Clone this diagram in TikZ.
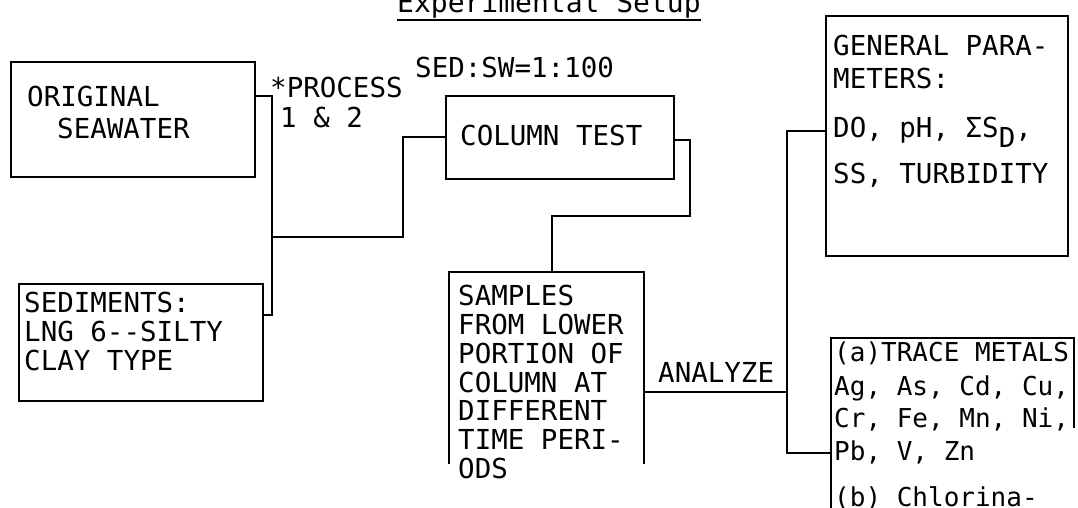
\documentclass[tikz,border=0pt]{standalone}
\usepackage{fontspec}
\newfontfamily\typer{DejaVu Sans Mono}
\tikzset{
  panel/.style={draw,line width=2pt,inner sep=0pt,anchor=north west},
  rim/.style={line width=2pt},
  wire/.style={line width=1.6pt},
  typed/.style={anchor=north west,inner sep=0pt,align=left,font=\typer\fontsize{27.5}{29}\selectfont},
}
\begin{document}
\begin{tikzpicture}[x=1pt,y=-1pt]
   \useasboundingbox (0,0) rectangle (1078,508);
   %title
   \node[typed,anchor=base west] (title) at (397,13) {\fontsize{28}{30}\selectfont Experimental Setup};
   \draw[wire] ([yshift=-7pt]title.base west) -- ([yshift=-7pt]title.base east);
   %boxes
   \node[panel,minimum width=244pt,minimum height=115pt] (sw) at (10,61) {};
   \node[panel,minimum width=244pt,minimum height=117pt] (sed) at (18,283) {};
   \node[panel,minimum width=228pt,minimum height=83pt] (col) at (445,95) {};
   \node[panel,minimum width=242pt,minimum height=240pt] (gen) at (825,15) {};
   \node[panel,draw=none,minimum width=193pt,minimum height=190pt] (smp) at (449,272) {};
   \draw[rim] (smp.south west) -- (smp.north west) -- (smp.north east) -- (smp.south east);
   \node[panel,draw=none,minimum width=241pt,minimum height=190pt] (trc) at (831,338) {};
   \draw[rim] (trc.south west) -- (trc.north west) -- (trc.north east) -- ([yshift=-90pt]trc.north east);
   %texts
   \node[typed] (swt) at (27,86) {ORIGINAL\\[3pt]\hspace*{30pt}SEAWATER};
   \node[typed] (sedt) at (24,292) {SEDIMENTS:\\LNG 6-{}-SILTY\\CLAY TYPE};
   \node[typed] (proc) at (270,77) {*PROCESS\\[1pt]\hspace*{10pt}1 \& 2};
   \node[typed] (ratio) at (415,57) {SED:SW=1:100};
   \node[typed] (colt) at (460,125) {COLUMN TEST};
   \node[typed,font=\typer\fontsize{27.5}{28.8}\selectfont] (smpt) at (458,285)
      {SAMPLES\\FROM LOWER\\PORTION OF\\COLUMN AT\\DIFFERENT\\TIME PERI-\\ODS};
   \node[typed] (ana) at (658,362) {ANALYZE};
   \node[typed] (gent) at (833,35)
      {GENERAL PARA-\\[4pt]METERS:\\[20pt]DO, pH, ΣS\raisebox{-10pt}{D},\\[14pt]SS, TURBIDITY};
   \node[typed,font=\typer\fontsize{26}{29}\selectfont] (trct) at (834,342)
      {(a)TRACE METALS\\[5pt]Ag, As, Cd, Cu,\\[3pt]Cr, Fe, Mn, Ni,\\[4pt]Pb, V, Zn\\[17pt](b) Chlorina-};
   %connectors
   \coordinate (lb1) at (272,96);
   \coordinate (lb2) at (272,315);
   \coordinate (lj) at (272,237);
   \coordinate (cb1) at (403,237);
   \coordinate (cb2) at (403,137);
   \draw[wire] (sw.east |- lb1) -- (lb1) -- (lb2) -- (sed.east |- lb2);
   \draw[wire] (lj) -- (cb1) -- (cb2) -- (col.west |- cb2);
   \coordinate (rb1) at (690,140);
   \coordinate (rb2) at (690,216);
   \coordinate (rb3) at (552,216);
   \draw[wire] (col.east |- rb1) -- (rb1) -- (rb2) -- (rb3) -- (rb3 |- smp.north);
   \coordinate (ab1) at (787,131);
   \coordinate (ab2) at (787,453);
   \coordinate (ab3) at (787,392);
   \draw[wire] (gen.west |- ab1) -- (ab1) -- (ab2) -- (trc.west |- ab2);
   \draw[wire] (smp.east |- ab3) -- (ab3);
\end{tikzpicture}
\end{document}
